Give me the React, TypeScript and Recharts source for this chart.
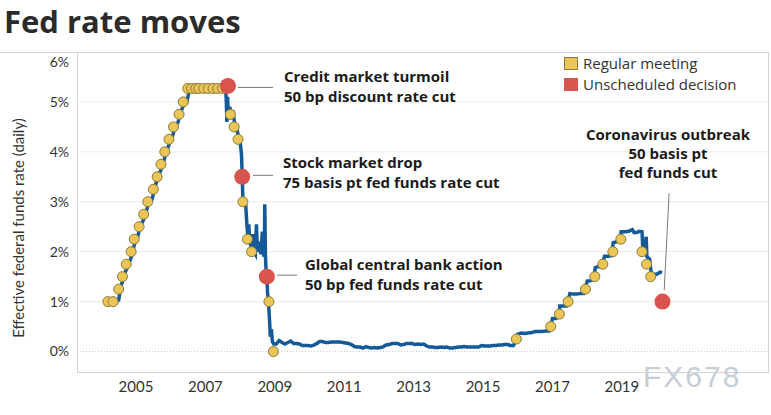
import React from "react";
import {
  ComposedChart,
  Line,
  Scatter,
  XAxis,
  YAxis,
  ReferenceLine,
} from "recharts";

// effective fed funds rate (year fraction, %)
const HIKES_2004_2006: [number, number][] = [
  [2004.35, 1.0], [2004.45, 1.01], [2004.5, 1.03], [2004.55, 1.26],
  [2004.62, 1.43], [2004.7, 1.61], [2004.8, 1.76], [2004.88, 1.93],
  [2004.96, 2.16], [2005.04, 2.28], [2005.12, 2.5], [2005.21, 2.63],
  [2005.29, 2.79], [2005.37, 3.0], [2005.46, 3.04], [2005.54, 3.26],
  [2005.62, 3.5], [2005.71, 3.62], [2005.79, 3.78], [2005.87, 4.0],
  [2005.96, 4.16], [2006.04, 4.29], [2006.12, 4.49], [2006.21, 4.59],
  [2006.29, 4.79], [2006.37, 4.94], [2006.46, 4.99], [2006.54, 5.24],
];

const PLATEAU_2006_2007: [number, number][] = [
  [2006.62, 5.27], [2006.7, 5.25], [2006.8, 5.28], [2006.9, 5.26],
  [2007.0, 5.27], [2007.1, 5.29], [2007.2, 5.27], [2007.3, 5.26],
  [2007.4, 5.28], [2007.5, 5.29], [2007.58, 5.27],
];

const CUTS_2007_2008: [number, number][] = [
  [2007.6, 5.05], [2007.62, 4.6], [2007.64, 5.1], [2007.66, 4.7],
  [2007.7, 4.9], [2007.74, 4.75], [2007.8, 4.78], [2007.85, 4.52],
  [2007.9, 4.5], [2007.95, 4.3], [2008.0, 4.2], [2008.04, 3.95],
  [2008.06, 3.5], [2008.08, 3.05], [2008.12, 3.0], [2008.16, 2.95],
  [2008.19, 2.6], [2008.22, 2.3], [2008.25, 2.55], [2008.28, 2.2],
  [2008.33, 2.05], [2008.36, 2.35], [2008.4, 2.0], [2008.44, 1.95],
  [2008.47, 2.55], [2008.5, 2.0], [2008.55, 2.1], [2008.6, 1.95],
  [2008.64, 2.4], [2008.68, 1.9], [2008.7, 2.0], [2008.71, 2.95],
  [2008.73, 1.9], [2008.75, 1.6], [2008.77, 1.5], [2008.79, 1.2],
  [2008.82, 0.95], [2008.85, 0.6], [2008.87, 0.3], [2008.9, 0.45],
  [2008.93, 0.2], [2008.97, 0.15],
];

// monthly averages near the zero bound, 2009 to 2015
const ZERO_BOUND_YEARS = [2009, 2010, 2011, 2012, 2013, 2014, 2015];
const ZERO_BOUND_RATES: number[][] = [
  [0.15, 0.22, 0.18, 0.15, 0.18, 0.21, 0.16, 0.16, 0.15, 0.12, 0.12, 0.12],
  [0.11, 0.13, 0.16, 0.2, 0.2, 0.18, 0.18, 0.19, 0.19, 0.19, 0.19, 0.18],
  [0.17, 0.16, 0.14, 0.1, 0.09, 0.09, 0.07, 0.1, 0.08, 0.07, 0.08, 0.07],
  [0.08, 0.1, 0.13, 0.14, 0.16, 0.16, 0.16, 0.13, 0.14, 0.16, 0.16, 0.16],
  [0.14, 0.15, 0.14, 0.15, 0.11, 0.09, 0.09, 0.08, 0.08, 0.09, 0.08, 0.09],
  [0.07, 0.07, 0.08, 0.09, 0.09, 0.1, 0.09, 0.09, 0.09, 0.09, 0.09, 0.12],
  [0.11, 0.11, 0.11, 0.12, 0.12, 0.13, 0.13, 0.14, 0.14, 0.12, 0.12],
];

const LIFTOFF_2015_2020: [number, number][] = [
  [2015.96, 0.24], [2016.0, 0.35], [2016.1, 0.37], [2016.2, 0.36],
  [2016.3, 0.37], [2016.4, 0.38], [2016.5, 0.4], [2016.6, 0.4],
  [2016.7, 0.4], [2016.8, 0.41], [2016.9, 0.41], [2016.96, 0.54],
  [2017.0, 0.66], [2017.1, 0.66], [2017.19, 0.7], [2017.21, 0.91],
  [2017.3, 0.91], [2017.4, 0.91], [2017.46, 1.04], [2017.5, 1.16],
  [2017.6, 1.15], [2017.7, 1.15], [2017.8, 1.16], [2017.9, 1.16],
  [2017.96, 1.3], [2018.0, 1.41], [2018.1, 1.42], [2018.2, 1.45],
  [2018.23, 1.68], [2018.3, 1.7], [2018.4, 1.7], [2018.46, 1.82],
  [2018.5, 1.91], [2018.6, 1.91], [2018.7, 1.92], [2018.75, 2.18],
  [2018.85, 2.2], [2018.95, 2.22], [2018.98, 2.4], [2019.1, 2.4],
  [2019.2, 2.41], [2019.3, 2.44], [2019.35, 2.38], [2019.45, 2.39],
  [2019.5, 2.41], [2019.58, 2.4], [2019.6, 2.12], [2019.68, 2.13],
  [2019.7, 2.3], [2019.72, 1.9], [2019.8, 1.85], [2019.84, 1.6],
  [2019.9, 1.55], [2020.0, 1.55], [2020.1, 1.59], [2020.16, 1.58],
];

// FOMC decisions (year fraction, target rate %)
const REGULAR_MEETINGS: [number, number][] = [
  [2004.19, 1.0], [2004.34, 1.0], [2004.5, 1.25], [2004.61, 1.5],
  [2004.72, 1.75], [2004.86, 2.0], [2004.95, 2.25], [2005.09, 2.5],
  [2005.22, 2.75], [2005.34, 3.0], [2005.5, 3.25], [2005.61, 3.5],
  [2005.72, 3.75], [2005.83, 4.0], [2005.95, 4.25], [2006.08, 4.5],
  [2006.24, 4.75], [2006.36, 5.0], [2006.49, 5.27], [2006.6, 5.27],
  [2006.72, 5.27], [2006.81, 5.27], [2006.95, 5.27], [2007.08, 5.27],
  [2007.22, 5.27], [2007.35, 5.27], [2007.49, 5.27], [2007.6, 5.27],
  [2007.72, 4.75], [2007.83, 4.5], [2007.94, 4.25], [2008.08, 3.0],
  [2008.21, 2.25], [2008.33, 2.0], [2008.83, 1.0], [2008.96, 0.0],
  [2015.96, 0.25], [2016.95, 0.5], [2017.2, 0.75], [2017.45, 1.0],
  [2017.95, 1.25], [2018.22, 1.5], [2018.45, 1.75], [2018.74, 2.0],
  [2018.97, 2.25], [2019.58, 2.0], [2019.71, 1.75], [2019.83, 1.5],
];

const UNSCHEDULED: [number, number][] = [
  [2007.65, 5.32], [2008.06, 3.5], [2008.77, 1.5], [2020.17, 1.0],
];

const X_TICKS = [2005, 2007, 2009, 2011, 2013, 2015, 2017, 2019];
const Y_TICKS = [0, 1, 2, 3, 4, 5, 6];
const GRID_LINES = [1, 2, 3, 4, 5];

// leader lines from each unscheduled decision to its note
const LEADERS: [number, number, number, number][] = [
  [2007.94, 5.29, 2008.95, 5.29],
  [2008.37, 3.53, 2008.95, 3.53],
  [2009.06, 1.53, 2009.64, 1.53],
  [2020.36, 3.17, 2020.22, 1.23],
];

const toPts = (rows: [number, number][]) => rows.map(([t, r]) => ({ t, r }));

const zeroBound = ZERO_BOUND_YEARS.flatMap((y, i) =>
  ZERO_BOUND_RATES[i].map((r, m) => ({ t: y + (m + 0.5) / 12, r }))
);

const rateData = [
  ...toPts(HIKES_2004_2006),
  ...toPts(PLATEAU_2006_2007),
  ...toPts(CUTS_2007_2008),
  ...zeroBound,
  ...toPts(LIFTOFF_2015_2020),
];

const YELLOW = "#EBC656";
const YELLOW_EDGE = "#8a7a3e";
const RED = "#D9534F";
const BLUE = "#155A98";
const SANS = "Lato, 'Open Sans', sans-serif";
const WIDE = "'Open Sans', Lato, sans-serif";

function YTick(props: any) {
  const { x, y, payload } = props;
  const dy = payload.value === 6 ? 10 : 0;
  return (
    <text x={x} y={y + dy} dy="0.35em" textAnchor="end" fontSize={14} fill="#333" fontFamily={SANS}>
      {payload.value}%
    </text>
  );
}

const noteStyle: React.CSSProperties = {
  position: "absolute",
  fontFamily: WIDE,
  fontWeight: 700,
  fontSize: 15,
  lineHeight: "20px",
  color: "#1b1b1b",
  whiteSpace: "nowrap",
};

export default function App() {
  return (
    <div style={{ position: "absolute", left: 0, top: 0, width: 771, height: 415, background: "#fff", overflow: "hidden" }}>
      <div style={{ position: "absolute", left: 4, top: 6, fontFamily: WIDE, fontWeight: 700, fontSize: 31, lineHeight: "31px", color: "#2b2b2b" }}>
        Fed rate moves
      </div>

      {/* frame */}
      <div style={{ position: "absolute", left: 0, top: 52, width: 768, height: 0, borderTop: "1px solid #d4d4d4" }} />
      <div style={{ position: "absolute", left: 77, top: 52, width: 690, height: 320, borderLeft: "1px solid #d4d4d4", borderRight: "1px solid #d4d4d4", borderBottom: "1px solid #d4d4d4" }} />

      <div style={{ position: "absolute", left: 0, top: 0 }}>
        <ComposedChart width={771} height={415} margin={{ top: 52, right: 3, bottom: 12, left: 17 }}>
          <XAxis
            type="number"
            dataKey="t"
            domain={[2003.3, 2023.21]}
            ticks={X_TICKS}
            axisLine={false}
            tickLine={false}
            height={30}
            tick={{ fontSize: 15, fill: "#333", fontFamily: SANS }}
          />
          <YAxis
            type="number"
            domain={[-0.43, 6]}
            ticks={Y_TICKS}
            width={60}
            axisLine={false}
            tickLine={false}
            tick={<YTick />}
          />
          {GRID_LINES.map((v) => (
            <ReferenceLine key={v} y={v} stroke="#ececec" strokeWidth={1} />
          ))}
          <ReferenceLine y={0} stroke="#c8c8c8" strokeDasharray="1 2" />
          {LEADERS.map(([x1, y1, x2, y2], i) => (
            <ReferenceLine
              key={i}
              segment={[{ x: x1, y: y1 }, { x: x2, y: y2 }]}
              stroke="#7a7a7a"
              strokeWidth={1}
            />
          ))}
          <Line
            data={rateData}
            dataKey="r"
            type="linear"
            stroke={BLUE}
            strokeWidth={3.5}
            dot={false}
            isAnimationActive={false}
          />
          <Scatter
            data={toPts(REGULAR_MEETINGS)}
            dataKey="r"
            isAnimationActive={false}
            shape={(p: any) => (
              <circle cx={p.cx} cy={p.cy} r={5} fill={YELLOW} stroke={YELLOW_EDGE} strokeWidth={1} />
            )}
          />
          <Scatter
            data={toPts(UNSCHEDULED)}
            dataKey="r"
            isAnimationActive={false}
            shape={(p: any) => <circle cx={p.cx} cy={p.cy} r={8} fill={RED} />}
          />
        </ComposedChart>
      </div>

      {/* y label */}
      <div style={{ position: "absolute", left: 18, top: 228, transform: "translate(-50%, -50%) rotate(-90deg)", fontFamily: SANS, fontSize: 15, color: "#333", whiteSpace: "nowrap" }}>
        Effective federal funds rate (daily)
      </div>

      {/* legend */}
      <div style={{ position: "absolute", left: 564, top: 53, fontFamily: WIDE, fontSize: 15, color: "#333", lineHeight: "21px" }}>
        <div style={{ display: "flex", alignItems: "center" }}>
          <span style={{ width: 14, height: 13, background: YELLOW, border: `1px solid ${YELLOW_EDGE}`, boxSizing: "border-box", marginRight: 5 }} />
          Regular meeting
        </div>
        <div style={{ display: "flex", alignItems: "center" }}>
          <span style={{ width: 14, height: 13, background: RED, marginRight: 5 }} />
          Unscheduled decision
        </div>
      </div>

      {/* notes */}
      <div style={{ ...noteStyle, left: 284, top: 66 }}>
        Credit market turmoil<br />50 bp discount rate cut
      </div>
      <div style={{ ...noteStyle, left: 283, top: 152 }}>
        Stock market drop<br />75 basis pt fed funds rate cut
      </div>
      <div style={{ ...noteStyle, left: 305, top: 254 }}>
        Global central bank action<br />50 bp fed funds rate cut
      </div>
      <div style={{ ...noteStyle, left: 668, top: 125, transform: "translateX(-50%)", textAlign: "center", lineHeight: "19px" }}>
        Coronavirus outbreak<br />50 basis pt<br />fed funds cut
      </div>

      {/* watermark */}
      <div style={{ position: "absolute", left: 643, top: 360, fontFamily: "'Liberation Sans', Arial, sans-serif", fontSize: 30, letterSpacing: 2, color: "#c6ced8" }}>
        FX678
      </div>
    </div>
  );
}
